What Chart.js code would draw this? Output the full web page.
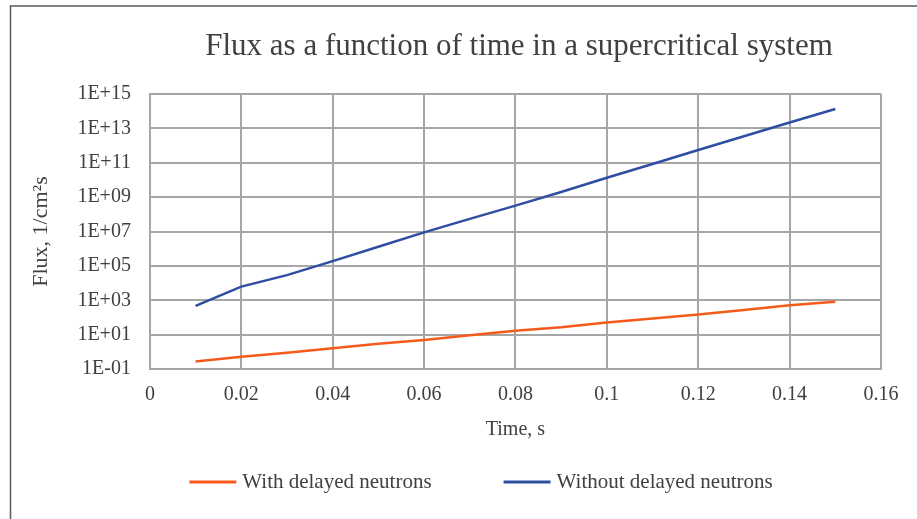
<!DOCTYPE html>
<html>
<head>
<meta charset="utf-8">
<script src="https://cdn.jsdelivr.net/npm/chart.js@4"></script>
<style>
  body { margin: 0; background: #fff; }
  #wrap { position: relative; width: 917px; height: 519px; }
</style>
</head>
<body>
<div id="wrap"><canvas id="fluxChart"></canvas></div>
<script>
// data
var time = [0.01, 0.02, 0.03, 0.04, 0.05, 0.06, 0.07, 0.08, 0.09, 0.1, 0.11, 0.12, 0.13, 0.14, 0.15];
var withDelayed = [0.27, 0.52, 0.89, 1.6, 2.9, 4.9, 9.1, 17, 27, 50, 87, 150, 275, 510, 830];
var withoutDelayed = [470, 6200, 2.9e4, 1.9e5, 1.3e6, 8.9e6, 5.4e7, 3.2e8, 2e9, 1.35e10, 8.5e10, 5.5e11, 3.5e12, 2.2e13, 1.35e14];
var seriesNames = ['With delayed neutrons', 'Without delayed neutrons'];
var yTickValues = [1e-1, 1e1, 1e3, 1e5, 1e7, 1e9, 1e11, 1e13, 1e15];
var yTickLabels = ['1E-01', '1E+01', '1E+03', '1E+05', '1E+07', '1E+09', '1E+11', '1E+13', '1E+15'];
var chartTitle = 'Flux as a function of time in a supercritical system';

var serif = '"Liberation Serif", "Times New Roman", serif';
var textColor = '#404040';
var gridColor = '#a6a6a6';

function toPoints(ys) {
    var pts = [];
    for (var i = 0; i < time.length; i++) {
        pts.push({ x: time[i], y: ys[i] });
    }
    return pts;
}

// frame, title and legend drawn by hand so they sit where the original has them
var decor = {
    id: 'decor',
    afterDraw: function (chart) {
        var c = chart.ctx;
        c.save();
        c.strokeStyle = '#5a5a5a';
        c.lineWidth = 1.5;
        c.beginPath();
        c.moveTo(10.5, 519);
        c.lineTo(10.5, 6);
        c.lineTo(917, 6);
        c.stroke();

        c.fillStyle = textColor;
        c.font = '31px ' + serif;
        c.textAlign = 'center';
        c.textBaseline = 'alphabetic';
        c.fillText(chartTitle, 519, 55);

        c.font = '21px ' + serif;
        c.textAlign = 'left';
        c.textBaseline = 'middle';
        var lineW = 47, gap = 6, itemGap = 72;
        var total = 0;
        chart.data.datasets.forEach(function (ds, i) {
            total += lineW + gap + c.measureText(ds.label).width;
            if (i > 0) total += itemGap;
        });
        var x = 481 - total / 2;
        var y = 482;
        chart.data.datasets.forEach(function (ds) {
            c.fillStyle = ds.borderColor;
            c.fillRect(x, y - 1.5, lineW, 3);
            c.fillStyle = textColor;
            c.fillText(ds.label, x + lineW + gap, y);
            x += lineW + gap + c.measureText(ds.label).width + itemGap;
        });
        c.restore();
    }
};

new Chart(document.getElementById('fluxChart'), {
    type: 'line',
    data: {
        datasets: [{
            label: seriesNames[0],
            data: toPoints(withDelayed),
            borderColor: '#f55a1b',
            borderWidth: 2.5,
            pointRadius: 0,
            tension: 0
        }, {
            label: seriesNames[1],
            data: toPoints(withoutDelayed),
            borderColor: '#2e4ea2',
            borderWidth: 2.5,
            pointRadius: 0,
            tension: 0
        }]
    },
    options: {
        responsive: true,
        maintainAspectRatio: false,
        animation: false,
        layout: { padding: { left: 10, right: 36, top: 94, bottom: 77 } },
        plugins: {
            legend: { display: false },
            title: { display: false },
            tooltip: { enabled: false }
        },
        scales: {
            x: {
                type: 'linear',
                min: 0,
                max: 0.16,
                ticks: {
                    stepSize: 0.02,
                    color: textColor,
                    padding: 14,
                    font: { family: serif, size: 20 },
                    callback: function (v) { return String(Number(v.toFixed(2))); }
                },
                grid: { color: gridColor, lineWidth: 2, drawTicks: false },
                border: { color: gridColor, width: 2 },
                title: {
                    display: true,
                    text: 'Time, s',
                    color: textColor,
                    font: { family: serif, size: 20 },
                    padding: { top: -3, bottom: 0 }
                }
            },
            y: {
                type: 'logarithmic',
                min: 0.1,
                max: 1e15,
                afterBuildTicks: function (axis) {
                    axis.ticks = yTickValues.map(function (v) { return { value: v }; });
                },
                ticks: {
                    color: textColor,
                    padding: 19,
                    font: { family: serif, size: 20 },
                    callback: function (v) {
                        var i = yTickValues.indexOf(v);
                        return i >= 0 ? yTickLabels[i] : '';
                    }
                },
                grid: { color: gridColor, lineWidth: 2, drawTicks: false },
                border: { color: gridColor, width: 2 },
                title: {
                    display: true,
                    text: 'Flux, 1/cm²s',
                    color: textColor,
                    font: { family: serif, size: 22 },
                    padding: { top: 18, bottom: 4 }
                }
            }
        }
    },
    plugins: [decor]
});
</script>
</body>
</html>
